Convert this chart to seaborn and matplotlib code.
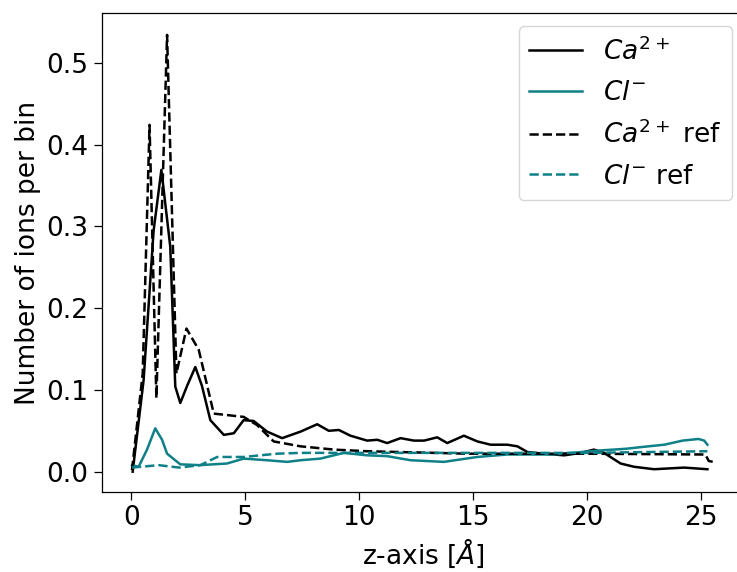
import matplotlib
matplotlib.use("Agg")
import matplotlib.pyplot as plt
import seaborn as sns
import numpy as np

# ---- data ----
z_ca = [0.06, 0.54, 0.98, 1.32, 1.71, 1.93, 2.15, 2.45, 2.81, 3.1, 3.47, 4.06, 4.5, 4.93,
        5.37, 5.96, 6.62, 7.43, 8.16, 8.67, 9.11, 9.62, 10.35, 10.8, 11.23, 11.82, 12.4,
        12.85, 13.43, 13.87, 14.6, 15.19, 15.77, 16.5, 16.95, 17.39, 18.12, 19.0, 19.73,
        20.31, 20.75, 21.48, 22.07, 22.95, 24.27, 25.29]
ca = [0.0, 0.112, 0.295, 0.369, 0.275, 0.104, 0.084, 0.105, 0.128, 0.105, 0.063, 0.045,
      0.047, 0.063, 0.062, 0.049, 0.041, 0.049, 0.058, 0.050, 0.051, 0.044, 0.038, 0.039,
      0.035, 0.041, 0.038, 0.038, 0.042, 0.035, 0.044, 0.037, 0.033, 0.033, 0.031, 0.024,
      0.022, 0.020, 0.023, 0.027, 0.023, 0.010, 0.006, 0.003, 0.005, 0.003]

z_cl = [0.03, 0.32, 0.69, 1.05, 1.35, 1.57, 2.15, 3.0, 4.2, 4.93, 5.96, 6.84, 7.43, 8.3,
        9.33, 10.35, 11.23, 12.26, 13.72, 15.19, 16.5, 18.5, 20.6, 21.7, 22.7, 23.4,
        24.2, 24.9, 25.15, 25.29]
cl = [0.008, 0.006, 0.027, 0.053, 0.039, 0.022, 0.009, 0.008, 0.010, 0.016, 0.014, 0.012,
      0.014, 0.016, 0.023, 0.020, 0.019, 0.014, 0.012, 0.018, 0.021, 0.021, 0.026, 0.028,
      0.031, 0.033, 0.038, 0.040, 0.038, 0.033]

z_ca_ref = [0.03, 0.5, 0.8, 1.1, 1.57, 1.98, 2.42, 2.96, 3.62, 4.93, 5.52, 6.25, 7.43,
            8.9, 10.35, 14.75, 20.0, 25.2, 25.35, 25.56]
ca_ref = [0.002, 0.12, 0.424, 0.090, 0.534, 0.120, 0.175, 0.149, 0.071, 0.067, 0.057,
          0.037, 0.031, 0.027, 0.025, 0.022, 0.022, 0.021, 0.013, 0.012]

z_cl_ref = [0.03, 1.2, 2.1, 3.03, 3.77, 4.93, 6.4, 7.43, 9.62, 15.0, 20.0, 25.29]
cl_ref = [0.005, 0.008, 0.005, 0.008, 0.018, 0.018, 0.022, 0.023, 0.023, 0.023, 0.023, 0.025]

labels = [r"$Ca^{2+}$", r"$Cl^{-}$", r"$Ca^{2+}$ ref", r"$Cl^{-}$ ref"]
black = "black"
teal = "#0f8087"

plt.rcParams["font.size"] = 19
plt.rcParams["mathtext.fontset"] = "dejavusans"

fig = plt.figure(figsize=(7.37, 5.72), dpi=100)
ax = fig.add_axes([101.7 / 737, 79.7 / 572, 643.3 / 737, 479.0 / 572])

lw = 1.8
sns.lineplot(x=z_ca, y=ca, ax=ax, color=black, lw=lw, label=labels[0])
sns.lineplot(x=z_cl, y=cl, ax=ax, color=teal, lw=lw, label=labels[1])
sns.lineplot(x=z_ca_ref, y=ca_ref, ax=ax, color=black, lw=lw, linestyle="--", label=labels[2])
sns.lineplot(x=z_cl_ref, y=cl_ref, ax=ax, color=teal, lw=lw, linestyle="--", label=labels[3])

ax.set_xlim(-1.30, 26.94)
ax.set_ylim(-0.0252, 0.5604)
ax.set_xticks([0, 5, 10, 15, 20, 25])
ax.set_yticks([0.0, 0.1, 0.2, 0.3, 0.4, 0.5])
ax.set_xlabel(r"z-axis [$\AA$]")
ax.set_ylabel("Number of ions per bin")
ax.tick_params(length=6, width=0.9)
for s in ax.spines.values():
    s.set_linewidth(0.9)
ax.legend(loc="upper right", fontsize=19, labelspacing=0.55)

fig.savefig("out.png", dpi=100)
